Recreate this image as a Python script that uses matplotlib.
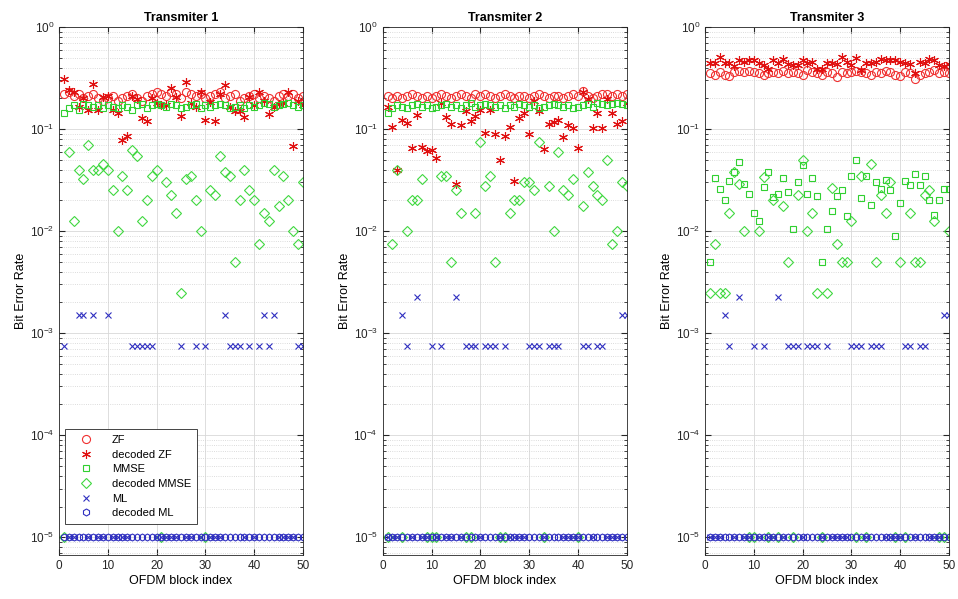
import matplotlib.pyplot as plt
import numpy as np

plt.rcParams['font.family'] = ['Liberation Sans', 'DejaVu Sans']
plt.rcParams['mathtext.fontset'] = 'custom'
plt.rcParams['mathtext.rm'] = 'Liberation Sans'

blocks = np.arange(1, 51)

# --- Transmiter 1 ---
zf1 = [0.22, 0.23, 0.21, 0.22, 0.20, 0.21, 0.22, 0.20, 0.19, 0.20,
       0.21, 0.19, 0.20, 0.21, 0.22, 0.20, 0.19, 0.21, 0.22, 0.23,
       0.22, 0.21, 0.23, 0.22, 0.20, 0.23, 0.22, 0.21, 0.22, 0.20,
       0.21, 0.22, 0.23, 0.20, 0.21, 0.22, 0.19, 0.20, 0.21, 0.22,
       0.20, 0.21, 0.20, 0.19, 0.21, 0.22, 0.21, 0.22, 0.20, 0.21]
dzf1 = [0.31, 0.24, 0.23, 0.165, 0.20, 0.155, 0.275, 0.155, 0.205, 0.21,
        0.155, 0.145, 0.078, 0.085, 0.21, 0.195, 0.127, 0.12, 0.20, 0.18,
        0.17, 0.17, 0.25, 0.205, 0.135, 0.29, 0.18, 0.165, 0.23, 0.122,
        0.185, 0.12, 0.22, 0.27, 0.165, 0.15, 0.15, 0.13, 0.205, 0.17,
        0.23, 0.19, 0.14, 0.165, 0.175, 0.18, 0.23, 0.068, 0.19, 0.17]
mmse1 = [0.145, 0.16, 0.17, 0.155, 0.175, 0.17, 0.165, 0.17, 0.16, 0.17,
         0.165, 0.16, 0.17, 0.165, 0.155, 0.17, 0.175, 0.16, 0.17, 0.175,
         0.17, 0.165, 0.175, 0.17, 0.16, 0.165, 0.17, 0.175, 0.16, 0.17,
         0.165, 0.17, 0.175, 0.17, 0.16, 0.165, 0.17, 0.16, 0.17, 0.165,
         0.17, 0.18, 0.175, 0.165, 0.17, 0.175, 0.18, 0.17, 0.165, 0.17]
dmmse1 = [0, 0.06, 0.0125, 0.04, 0.0325, 0.07, 0.04, 0.04, 0.045, 0.04,
          0.025, 0.01, 0.035, 0.025, 0.0625, 0.055, 0.0125, 0.02, 0.035, 0.04,
          0, 0.03, 0.0225, 0.015, 0.0025, 0.0325, 0.035, 0.02, 0.01, 0,
          0.025, 0.0225, 0.055, 0.0375, 0.035, 0.005, 0.02, 0.04, 0.025, 0.02,
          0.0075, 0.015, 0.0125, 0.04, 0.0175, 0.035, 0.02, 0.01, 0.0075, 0.03]
ml1 = [7.5e-4, 0, 0, 1.5e-3, 1.5e-3, 0, 1.5e-3, 0, 0, 1.5e-3,
       0, 0, 0, 0, 7.5e-4, 7.5e-4, 7.5e-4, 7.5e-4, 7.5e-4, 0,
       0, 0, 0, 0, 7.5e-4, 0, 0, 7.5e-4, 0, 7.5e-4,
       0, 0, 0, 1.5e-3, 7.5e-4, 7.5e-4, 7.5e-4, 0, 7.5e-4, 0,
       7.5e-4, 1.5e-3, 7.5e-4, 1.5e-3, 0, 0, 0, 0, 7.5e-4, 7.5e-4]
dml1 = [0] * 50

# --- Transmiter 2 ---
zf2 = [0.21, 0.20, 0.21, 0.20, 0.21, 0.22, 0.21, 0.20, 0.21, 0.20,
       0.21, 0.22, 0.21, 0.20, 0.21, 0.22, 0.21, 0.20, 0.22, 0.21,
       0.22, 0.21, 0.20, 0.21, 0.22, 0.21, 0.20, 0.21, 0.21, 0.20,
       0.21, 0.22, 0.21, 0.20, 0.21, 0.21, 0.20, 0.21, 0.22, 0.21,
       0.235, 0.21, 0.20, 0.21, 0.22, 0.22, 0.21, 0.22, 0.21, 0.22]
dzf2 = [0.166, 0.105, 0.04, 0.123, 0.115, 0.065, 0.137, 0.067, 0.061, 0.062,
        0.0515, 0.179, 0.13, 0.113, 0.029, 0.11, 0.151, 0.12, 0.135, 0.155,
        0.092, 0.155, 0.09, 0.0497, 0.085, 0.105, 0.031, 0.127, 0.143, 0.09,
        0.19, 0.151, 0.063, 0.112, 0.118, 0.123, 0.084, 0.11, 0.102, 0.065,
        0.232, 0.195, 0.102, 0.143, 0.103, 0.195, 0.143, 0.113, 0.12, 0.179]
mmse2 = [0.145, 0.16, 0.17, 0.165, 0.16, 0.17, 0.175, 0.165, 0.17, 0.16,
         0.165, 0.17, 0.175, 0.165, 0.17, 0.16, 0.17, 0.18, 0.165, 0.17,
         0.175, 0.17, 0.165, 0.17, 0.16, 0.17, 0.165, 0.175, 0.17, 0.165,
         0.17, 0.16, 0.165, 0.17, 0.175, 0.17, 0.165, 0.17, 0.16, 0.165,
         0.17, 0.175, 0.165, 0.18, 0.175, 0.17, 0.175, 0.18, 0.175, 0.17]
dmmse2 = [0, 0.0075, 0.04, 0, 0.01, 0.02, 0.02, 0.0325, 0, 0,
          0, 0.035, 0.035, 0.005, 0.025, 0.015, 0, 0, 0.015, 0.075,
          0.0275, 0.035, 0.005, 0, 0, 0.015, 0.02, 0.02, 0.03, 0.03,
          0.025, 0.075, 0, 0.0275, 0.01, 0.06, 0.025, 0.0225, 0.0325, 0,
          0.0175, 0.0375, 0.0275, 0.0225, 0.02, 0.05, 0.0075, 0.01, 0.03, 0.0275]
ml2 = [0, 0, 0, 1.5e-3, 7.5e-4, 0, 2.25e-3, 0, 0, 7.5e-4,
       0, 7.5e-4, 0, 0, 2.25e-3, 0, 7.5e-4, 7.5e-4, 7.5e-4, 0,
       7.5e-4, 7.5e-4, 7.5e-4, 0, 7.5e-4, 0, 0, 0, 0, 7.5e-4,
       7.5e-4, 7.5e-4, 0, 7.5e-4, 7.5e-4, 7.5e-4, 0, 0, 0, 0,
       7.5e-4, 7.5e-4, 0, 7.5e-4, 7.5e-4, 0, 0, 0, 1.5e-3, 1.5e-3]
dml2 = [0] * 50

# --- Transmiter 3 ---
zf3 = [0.35, 0.34, 0.36, 0.34, 0.33, 0.36, 0.37, 0.36, 0.37, 0.36,
       0.35, 0.34, 0.35, 0.36, 0.35, 0.37, 0.35, 0.36, 0.35, 0.34,
       0.38, 0.36, 0.35, 0.34, 0.36, 0.35, 0.32, 0.36, 0.35, 0.36,
       0.37, 0.36, 0.35, 0.34, 0.36, 0.35, 0.37, 0.36, 0.34, 0.33,
       0.36, 0.35, 0.31, 0.34, 0.35, 0.36, 0.38, 0.35, 0.36, 0.35]
dzf3 = [0.44, 0.44, 0.51, 0.445, 0.44, 0.41, 0.475, 0.455, 0.475, 0.47,
        0.44, 0.425, 0.39, 0.475, 0.44, 0.48, 0.43, 0.425, 0.425, 0.475,
        0.44, 0.455, 0.39, 0.39, 0.44, 0.44, 0.435, 0.51, 0.455, 0.425,
        0.50, 0.38, 0.44, 0.44, 0.455, 0.48, 0.47, 0.47, 0.475, 0.455,
        0.44, 0.435, 0.35, 0.455, 0.44, 0.49, 0.47, 0.425, 0.41, 0.435]
mmse3 = [0.005, 0.033, 0.026, 0.02, 0.031, 0.038, 0.048, 0.029, 0.023, 0.015,
         0.0126, 0.027, 0.038, 0.0214, 0.023, 0.033, 0.024, 0.0104, 0.03, 0.044,
         0.023, 0.033, 0.022, 0.005, 0.0104, 0.0157, 0.022, 0.025, 0.014, 0.035,
         0.05, 0.021, 0.035, 0.018, 0.03, 0.026, 0.032, 0.025, 0.009, 0.019,
         0.031, 0.028, 0.036, 0.028, 0.035, 0.02, 0.0145, 0.02, 0.026, 0.026]
dmmse3 = [0.0025, 0.0075, 0.0025, 0.0025, 0.015, 0.0375, 0.029, 0.01, 0, 0,
          0.01, 0.034, 0, 0.02, 0, 0.0175, 0.005, 0, 0.0225, 0.05,
          0.01, 0.015, 0.0025, 0, 0.0025, 0.0265, 0.0075, 0.005, 0.005, 0.0125,
          0, 0.035, 0, 0.045, 0.005, 0.0225, 0.015, 0.03, 0, 0.005,
          0, 0.015, 0.005, 0.005, 0.0225, 0.025, 0.0125, 0, 0, 0.01]
ml3 = ml2
dml3 = [0] * 50

titles = ['Transmiter 1', 'Transmiter 2', 'Transmiter 3']
series = [
    (zf1, dzf1, mmse1, dmmse1, ml1, dml1),
    (zf2, dzf2, mmse2, dmmse2, ml2, dml2),
    (zf3, dzf3, mmse3, dmmse3, ml3, dml3),
]
labels = ['ZF', 'decoded ZF', 'MMSE', 'decoded MMSE', 'ML', 'decoded ML']
styles = [
    dict(marker='o', color='#f03030', mfc='none', markersize=5.8),
    dict(marker=(6, 2, 0), color='#e01010', mfc='none', markersize=6.4),
    dict(marker='s', color='#30d030', mfc='none', markersize=4.6),
    dict(marker='D', color='#40d840', mfc='none', markersize=4.8),
    dict(marker='x', color='#3030c0', mfc='none', markersize=3.9),
    dict(marker='h', color='#3030c0', mfc='none', markersize=5.0),
]

FLOOR = 1e-5  # zero BER drawn at the floor

fig = plt.figure(figsize=(9.58, 5.99), dpi=100)
lefts = [0.0616, 0.3995, 0.7359]
for i, (title, data) in enumerate(zip(titles, series)):
    ax = fig.add_axes([lefts[i], 0.0735, 0.2547, 0.8815])
    for vals, lab, st in zip(data, labels, styles):
        v = np.array(vals, dtype=float)
        v = np.where(v > 0, v, FLOOR)
        ax.plot(blocks, v, linestyle='none', markeredgewidth=0.8, label=lab, **st)
    ax.set_yscale('log')
    ax.set_ylim(6.7e-6, 1)
    ax.set_xlim(0, 50)
    ax.set_xticks([0, 10, 20, 30, 40, 50])
    ax.set_yticks([1e-5, 1e-4, 1e-3, 1e-2, 1e-1, 1e0])
    ax.grid(True, which='major', color='#d8d8d8', linewidth=0.6)
    ax.grid(True, which='minor', axis='y', color='#d0d0d0', linestyle=':', linewidth=0.6)
    ax.set_axisbelow(True)
    ax.tick_params(which='both', direction='in', top=True, right=True,
                   labelsize=8.5, colors='#262626')
    ax.tick_params(which='major', length=4)
    ax.tick_params(which='minor', length=2)
    for sp in ax.spines.values():
        sp.set_color('#262626')
        sp.set_linewidth(0.6)
    ax.set_title(title, fontsize=9, fontweight='bold', pad=4)
    ax.set_xlabel('OFDM block index', fontsize=9, labelpad=2)
    ax.set_ylabel('Bit Error Rate', fontsize=9, labelpad=2)
    if i == 0:
        leg = ax.legend(loc='lower left', bbox_to_anchor=(0.025, 0.059),
                        borderaxespad=0, fontsize=8, fancybox=False,
                        framealpha=1, edgecolor='#262626', handletextpad=0.9,
                        labelspacing=0.42, borderpad=0.5, handlelength=2.8)
        leg.get_frame().set_linewidth(0.6)

fig.savefig('out.png', dpi=100)
